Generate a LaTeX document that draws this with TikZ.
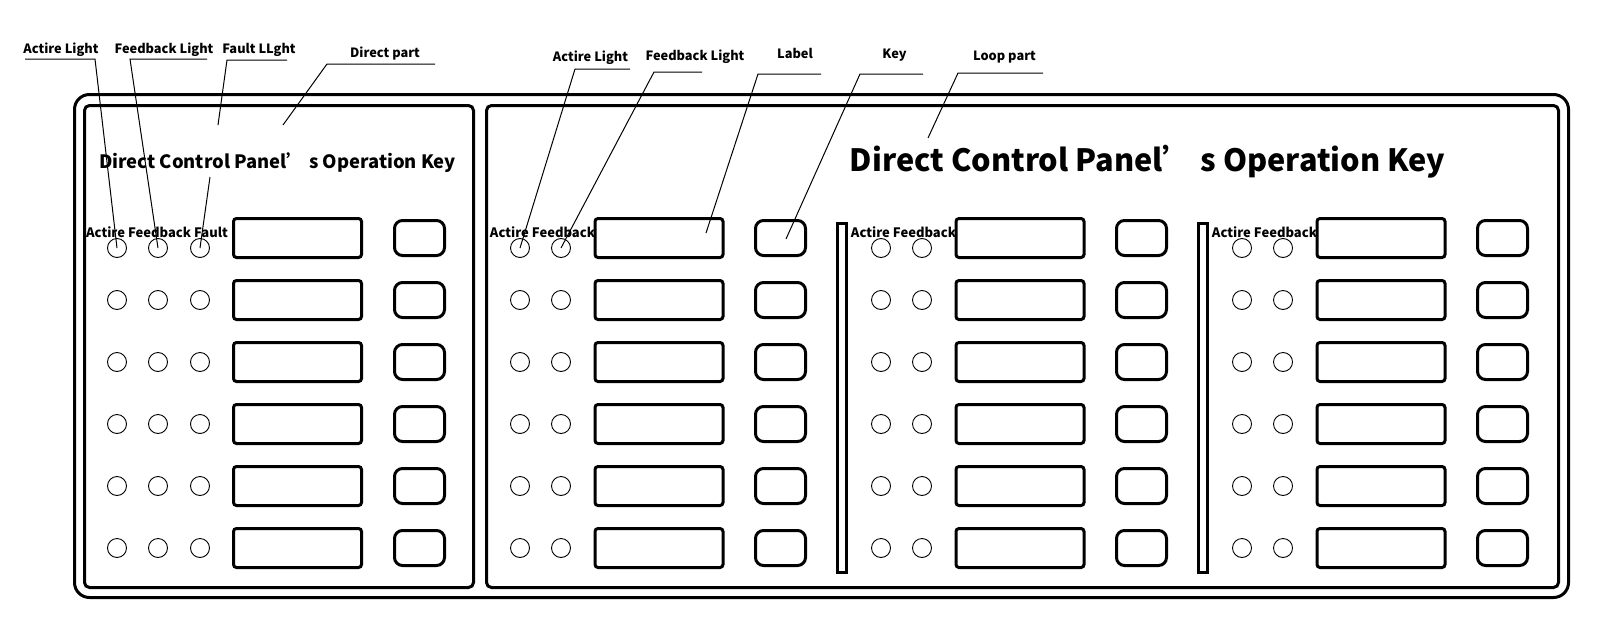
\documentclass[tikz,border=0pt]{standalone}
\usepackage{fontspec}
\setmainfont{Noto Sans CJK SC}
\usetikzlibrary{calc}

\begin{document}
\begin{tikzpicture}[x=1pt,y=-1pt,
  frame/.style={line width=3pt,rounded corners=15pt},
  panel/.style={line width=3pt,rounded corners=5pt},
  lamp/.style={circle,draw,line width=0.9pt,minimum size=19pt,inner sep=0pt},
  labelbox/.style={draw,line width=3pt,rounded corners=3pt,minimum width=128pt,minimum height=39pt,inner sep=0pt},
  keybox/.style={draw,line width=3pt,rounded corners=8pt,minimum width=50pt,minimum height=35pt,inner sep=0pt},
  bar/.style={line width=3pt},
  tag/.style={font=\bfseries\fontsize{12.8}{13}\selectfont,inner sep=0pt,anchor=base},
  lamptag/.style={font=\bfseries\fontsize{13}{13}\selectfont,inner sep=0pt},
  leader/.style={line width=1pt}]
\useasboundingbox (0,0) rectangle (1598,629);

\draw[frame] (74.5,94.5) rectangle (1568.5,597.5);
\draw[panel] (84.5,105.5) rectangle (473.5,587.5);
\draw[panel] (486.5,105.5) rectangle (1558.5,587.5);

\node[font=\bfseries\fontsize{18.4}{19}\selectfont,inner sep=0pt,anchor=base] (dtitle) at (277.5,168) {Direct Control Panel’ s Operation Key};
\node[font=\bfseries\fontsize{30.7}{31}\selectfont,inner sep=0pt,anchor=base] (ltitle) at (1147.5,171) {Direct Control Panel’ s Operation Key};

\node[lamptag] (dtag) at (157,232) {Actire Feedback Fault};
\foreach \p in {0,1,2}
  \node[lamptag] (ltag-\p) at ({542.5+361*\p},232) {Actire Feedback};

\foreach \r in {1,...,6} {
  \pgfmathsetmacro\yy{238+62*(\r-1)}
  \pgfmathsetmacro\yl{\r==1 ? 248 : \yy}
  \node[lamp] (d-\r-1) at (117,\yl) {};
  \node[lamp] (d-\r-2) at (158,\yl) {};
  \node[lamp] (d-\r-3) at (200,\yl) {};
  \node[labelbox] (dl-\r) at (297.5,\yy) {};
  \node[keybox] (dk-\r) at (419.5,\yy) {};
  \foreach \p in {0,1,2} {
    \pgfmathsetmacro\xo{361*\p}
    \node[lamp] (l-\p-\r-1) at ({520+\xo},\yl) {};
    \node[lamp] (l-\p-\r-2) at ({561+\xo},\yl) {};
    \node[labelbox] (ll-\p-\r) at ({659+\xo},\yy) {};
    \node[keybox] (lk-\p-\r) at ({780.5+\xo},\yy) {};
  }
}
\foreach \p in {0,1}
  \draw[bar] ({837.5+361*\p},223.5) rectangle ({846.5+361*\p},572.5);

% callouts, direct part
\node[tag] (t-act) at (61,53) {Actire Light};
\node[tag] (t-fb) at (164,53) {Feedback Light};
\node[tag] (t-fault) at (259,53) {Fault LLght};
\node[tag] (t-direct) at (385,57) {Direct part};
\coordinate (c-act) at (95,59);
\coordinate (c-fb) at (130,59);
\coordinate (c-fault) at (227,60);
\coordinate (c-direct) at (327,64);
\coordinate (e-fault1) at (218,125);
\coordinate (e-fault2) at (210,177);
\coordinate (e-direct) at (283,125);
\draw[leader] (25,59) -- (c-act) -- (d-1-1.center);
\draw[leader] (207,59) -- (c-fb) -- (d-1-2.center);
\draw[leader] (287,60) -- (c-fault) -- (e-fault1);
\draw[leader] (e-fault2) -- (d-1-3.center);
\draw[leader] (435,64) -- (c-direct) -- (e-direct);

% callouts, loop part
\node[tag] (t-lact) at (590.5,61) {Actire Light};
\node[tag] (t-lfb) at (695,60) {Feedback Light};
\node[tag] (t-label) at (795,58) {Label};
\node[tag] (t-key) at (894.5,58) {Key};
\node[tag] (t-loop) at (1004.5,60) {Loop part};
\coordinate (c-lact) at (575,69);
\coordinate (c-lfb) at (654,72);
\coordinate (c-label) at (758,74);
\coordinate (c-key) at (860,74);
\coordinate (c-loop) at (958,73);
\coordinate (e-label) at ($(ll-0-1.center)+(47,-5)$);
\coordinate (e-key) at ($(lk-0-1.center)+(5.5,1)$);
\coordinate (e-loop) at (928,138);
\draw[leader] (630,69) -- (c-lact) -- (l-0-1-1.center);
\draw[leader] (702,72) -- (c-lfb) -- (l-0-1-2.center);
\draw[leader] (821,74) -- (c-label) -- (e-label);
\draw[leader] (923,74) -- (c-key) -- (e-key);
\draw[leader] (1043,73) -- (c-loop) -- (e-loop);
\end{tikzpicture}
\end{document}
